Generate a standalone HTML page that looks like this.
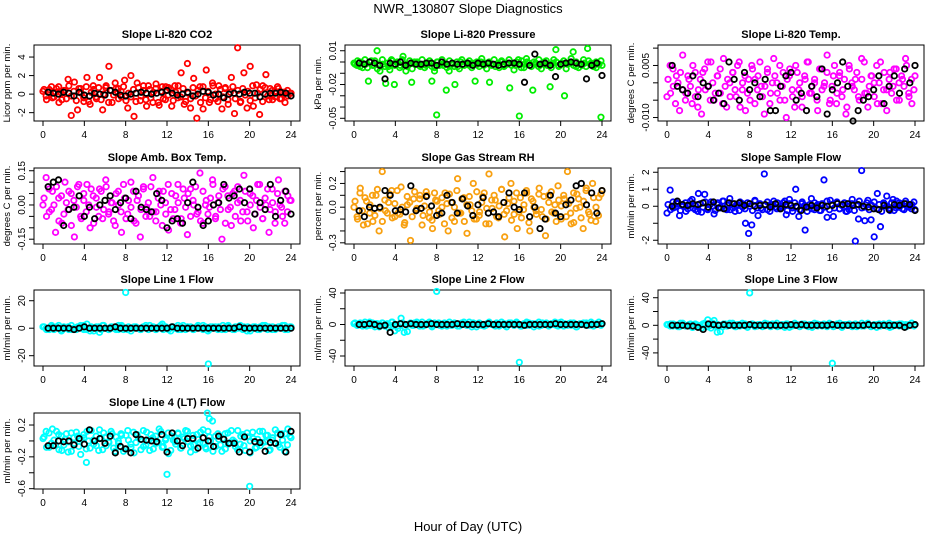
<!DOCTYPE html>
<html><head><meta charset="utf-8">
<style>
html,body{margin:0;padding:0;background:#fff;}
svg{display:block;font-family:"Liberation Sans",Arial,sans-serif;}
</style></head>
<body>
<svg id="chart" width="936" height="540" viewBox="0 0 936 540" xmlns="http://www.w3.org/2000/svg">
<rect width="936" height="540" fill="#fff"/>
<text x="468" y="13" text-anchor="middle" font-size="13">NWR_130807  Slope Diagnostics</text>
<text x="468" y="531" text-anchor="middle" font-size="13">Hour of Day (UTC)</text>
</svg>
<script>
// ---- data (colored = all slopes, black = selected slopes); x evenly spaced over 0-24 h ----
const xTicks = [0,4,8,12,16,20,24];
const co2All = [0.3,-0.2,0.5,-0.4,0.2,0.8,-0.6,0.4,1.6,-2.3,1.3,-1.7,0.6,-0.8,1.8,-1.1,0.9,-0.5,1.8,-1.7,0.7,3.0,-0.9,1.2,0.6,-0.3,1.5,-1.5,2.0,-2.4,1.2,-0.7,0.9,-1.3,0.5,-0.9,1.1,-1.2,0.8,-0.6,0.7,-1.3,0.9,-0.4,2.3,-1.1,3.3,-1.5,1.7,-2.6,0.8,-1.6,2.6,-0.9,1.2,-0.5,0.9,-1.6,0.6,-1.1,1.8,-2.1,5.0,-0.8,2.3,-1.5,3.0,-1.3,1.0,-2.2,0.9,2.1,-0.6,0.4,-0.3,0.6,-0.5,0.2,-0.2,0.1];
const co2Dense = [0.5,-0.6,0.2,0.8,-0.3,0.6,-0.9,0.1,0.4,-0.5,0.9,-0.2,0.3,-0.7,0.6,0.1,-0.4,0.8,-0.8,0.2,0.5,-0.3,0.7,-0.6,0.0,0.9,-0.9,0.4,-0.1,0.6,-0.5,0.3,0.8,-0.7,0.1,-0.3,0.5,-0.8,0.7,-0.2,0.4,-0.6,0.9,-0.4,0.2,0.6,-0.9,0.3,-0.5,0.8,-0.1,0.5,-0.7,0.2,0.9,-0.3,0.6,-0.8,0.1,-0.5,0.7,-0.2,0.4,-0.9,0.8,-0.4,0.3,-0.6,0.9,0.0,-0.8,0.5,-0.3,0.7,-0.6,0.2,0.8,-0.5,0.4,-0.9,0.6,-0.1,0.3,-0.7,0.9,-0.4,0.1,0.5,-0.8,0.7,-0.2,0.6,-0.6,0.3,0.8,-0.5,0.2,-0.9,0.4,0.1];
const co2Sel = [0.2,0.1,0,0.2,0.1,-0.2,0.2,-0.1,-0.2,0.1,0,-0.1,0.4,0.2,-0.1,-0.2,0,0.1,0.2,0.1,0,0.1,0.2,0.4,0.1,-0.1,0,0.2,-0.2,0,0.3,0.2,-0.1,0,-0.4,0,0.1,0,0.2,0.1,0.1,-0.3,0,0.1,0.1,0.2,0.1,-0.2];
const pressAll = [-1,-3,0,-5,-2,-17,1,-3,10,-8,-2,-19,-4,2,-20,-1,-3,5,-8,-2,-18,0,-1,-4,-2,-3,-1,-17,-5,0,-2,-3,-25,-8,-2,-20,-4,0,-2,-1,-3,-1,-17,-2,0,-3,-1,-18,-2,-4,-1,0,-3,-2,-23,-1,-3,2,-5,-2,0,-3,-25,-1,-4,-2,0,-3,-22,-1,11,-3,-1,-30,-2,-1,9,-4,-2,-3,-1,12,-2,-4,-5,-2,-3];
const pressDense = [-2,1,-4,-1,2,-5,0,-3,1,-6,-2,2,-4,-1,-7,1,-3,0,-5,2,-2,-4,1,-6,-1,0,-3,2,-5,-2,1,-4,-8,0,-3,2,-1,-5,1,-2,-4,0,-6,2,-3,-1,1,-5,-2,0,-4,3,-1,-6,0,-3,2,-2,-5,1,-4,-1,2,-3,-7,0,-2,1,-5,3,-1,-4,0,-2,2,-6,-1,1,-3,-5,2,0,-4,-2,1,-6,-1,3,-3,0,-5,-2,2,-4,1,-1,-3,0,-2,1];
const pressOutHours = [8,16,23.9];
const pressOutVals = [-47,-48,-49];
const pressSel = [-1,-2,0,-1,-3,-15,-1,-2,0,-3,-1,-2,-2,-1,-1,-3,0,-2,-1,-2,-2,-1,-3,-1,-2,-1,-2,-3,-2,-1,-1,-2,-18,-3,7,-2,-1,-3,-13,-2,-1,0,-1,-2,-15,-3,-1,-12];
const tempAll = [-4,5,-1,2,-8,8,-3,1,-6,3,-2,-9,4,-1,6,-5,2,-3,7,-7,0,3,-4,6,-2,-8,1,5,-6,2,-1,-9,4,-3,7,0,-5,3,-10,2,-4,5,-2,-7,1,6,-3,0,-8,4,-1,8,-5,2,-6,3,-2,-9,5,-1,1,-4,7,-3,-7,2,0,-6,6,-2,-8,3,-1,4,-5,1,7,-3,-6,2];
const tempDense = [1,-3,4,-6,0,3,-2,-5,2,-1,5,-4,-7,1,3,-2,6,-5,0,-3,2,4,-6,-1,1,-4,3,-2,5,-7,0,2,-3,-5,4,1,-2,6,-4,-1,3,-6,0,2,-3,5,-1,-5,1,4,-2,-7,3,0,-4,2,6,-3,-1,1,-5,4,-2,0,3,-6,-1,5,-3,2,-4,1,-7,4,0,-2,3,-5,1,6,-3,-1,2,-4,5,0,-6,3,-2,1,-3,4,-5,0,2,-1,5,-4,1,-2];
const tempSel = [5,-1,-2,-3,2,-4,0,-1,-5,-3,-6,6,1,-5,3,-2,0,-4,1,-8,-8,-1,2,3,-5,-3,-8,-1,-4,4,-9,-2,0,6,-1,-11,-8,-5,-4,-2,2,-6,-1,2,-3,4,0,5];
const ambAll = [0,12,-3,6,-12,3,-8,10,-2,5,-14,8,-5,2,9,-10,4,-1,7,-6,11,-3,1,-9,6,-12,3,-4,10,-7,2,-14,8,-1,-5,12,-3,6,-9,1,-11,5,-2,9,-6,3,-13,7,0,-4,14,-8,2,-1,11,-5,4,-15,8,-2,-9,6,1,-7,13,-3,5,-10,2,9,-6,0,-12,7,-3,11,-1,-8,4,2];
const ambDense = [3,-5,7,-2,0,8,-7,4,-4,1,6,-9,2,-1,9,-6,5,-3,0,7,-8,3,-5,6,-2,8,-4,1,-7,5,0,-3,9,-6,2,-1,6,-8,4,-2,7,-5,1,8,-3,-7,3,0,6,-4,9,-2,-6,4,1,-8,7,-1,5,-5,2,8,-3,-7,6,0,-4,3,9,-6,1,-2,7,-8,4,-1,5,-5,8,2,-3,6,-7,0,4,-4,9,-1,-6,3,7,-2,1,-8,5,0,-5,6,-3,2];
const ambSel = [8,10,11,-9,-2,-1,4,-5,-1,-6,0,2,4,-2,1,3,-6,6,-1,-2,-3,5,2,-10,-7,-6,-8,1,10,-1,-9,-7,0,1,9,3,4,7,1,7,-4,1,-2,9,-5,2,6,-4];
const rhAll = [0,-8,16,-15,5,-5,-12,10,-20,30,-3,4,14,-8,-5,17,-15,2,-28,7,-1,10,-7,13,-9,-18,6,-3,0,12,-20,4,-12,24,-5,8,-22,2,20,-10,-4,9,-14,28,-1,6,-9,15,-25,3,20,-6,-18,8,-2,12,-20,5,-3,16,-8,-24,10,-4,2,18,-10,7,30,-5,-13,11,0,-18,16,-6,20,-12,8,14];
const rhDense = [5,-10,12,-3,8,-14,2,10,-7,15,-1,-12,6,-5,11,-9,3,14,-6,0,-13,9,4,-8,13,-2,7,-15,1,10,-4,-11,12,5,-6,8,-14,3,11,-9,0,14,-5,7,-12,2,9,-3,-10,13,-7,4,12,-1,-14,6,10,-8,1,15,-6,-3,8,-11,5,12,-4,-9,2,14,-13,7,0,-6,11,-2,9,-10,4,13,-5,-12,6,1,10,-8,3,-14,12,-1,7,-9,5,14,-4,-11,8,0,-7,11];
const rhSel = [-3,-8,0,-1,0,14,10,-3,-2,-4,18,-3,-1,9,1,-7,-5,10,4,-5,7,1,-7,2,8,-5,-4,-8,4,12,0,-2,12,-8,0,-18,-10,10,-5,-8,2,6,18,20,2,12,-5,14];
const flowAll = [-40,95,-10,20,-55,10,-30,5,40,-20,75,-35,70,-15,25,-45,10,-5,30,-20,45,-10,5,-25,15,-100,-160,-110,35,-55,-10,190,-20,10,30,-15,-5,20,-50,40,-30,100,-60,15,-140,-5,45,-20,10,-25,155,-65,35,-60,20,-15,10,-30,-20,40,-205,-75,210,-85,35,-80,-180,75,-120,20,60,-25,40,-10,20,-15,30,-5,10,-20];
const flowDense = [10,-20,25,-5,15,-25,0,20,-15,30,-10,5,-30,15,-5,25,-20,10,0,-25,20,-10,30,-15,5,-20,15,-30,10,25,-5,-15,20,0,-25,30,-10,15,-20,5,25,-30,10,-5,20,-15,0,30,-25,15,-10,20,-5,-20,25,5,-30,10,-15,20,0,-25,15,-5,30,-20,10,-10,25,-15,5,20,-30,0,15,-25,10,30,-10,-5,20,-20,5,25,-15,10,-30,15,0,-10,20,-25,30,-5,10,-20,15,5,-15,25];
const flowSel = [0,30,10,5,15,10,20,-5,25,-10,-15,20,15,20,5,15,0,5,10,-5,15,-15,10,5,0,-25,-5,5,-10,5,0,5,15,10,15,5,10,0,-5,-15,-20,5,-20,10,5,15,10,-25];
const line1All = [1,0,-1,1,0,2,-1,0,1,-1,0,1,2,-1,3,-2,0,1,-3,2,0,-1,1,0,-1,2,0,-1,0,1,0,-1,1,0,2,0,-1,1,3,0,-1,1,0,2,-1,0,1,0,-1,1,0,2,0,-1,1,0,1,-1,0,2,0,-1,1,0,1,-2,0,1,0,-1,2,0,1,-1,0,1,0,2,-1,1];
const line1Dense = [1,-1,0,2,-1,1,0,-2,1,0,-1,2,0,-1,1,0,2,-1,0,1,-2,0,1,-1,2,0,-1,1,0,-1,2,1,-1,0,1,-2,0,1,0,-1,1,2,-1,0,1,-1,0,2,-1,1,0,-2,1,0,-1,1,2,-1,0,1,-1,0,2,0,-1,1,-2,1,0,1,-1,0,2,-1,1,0,-1,1,0,2,-1,0,1,-2,0,1,-1,1,0,2,-1,0,1,-1,0,1,2,-1,0,1];
const line1OutHours = [8,16];
const line1OutVals = [26,-26];
const line1Sel = [0,0,0,0,0,-1,0,1,0,0,0,0,0,1,0,0,0,0,0,0,0,0,0,0,1,0,0,0,0,0,0,0,0,0,0,0,0,1,0,0,0,0,0,0,0,0,0,0];
const line2All = [1,-1,2,0,-2,3,-1,1,-3,2,0,-4,3,-8,-5,8,-10,-9,2,-1,3,0,-2,1,3,-1,0,2,-2,1,0,-1,2,-2,1,3,-1,0,2,-3,1,0,-1,2,0,-2,1,3,-1,0,2,-1,1,-2,0,3,-1,1,0,-2,2,0,-1,1,3,-2,0,1,-1,2,0,-3,1,0,2,-1,1,0,3,1];
const line2Dense = [2,-1,1,-2,3,0,-1,2,-3,1,0,2,-2,1,-1,3,0,-2,1,2,-3,0,1,-1,2,0,-2,3,-1,1,0,-3,2,1,-1,0,2,-2,3,-1,0,1,-2,2,0,-1,3,-3,1,0,2,-1,-2,1,3,0,-1,2,-2,0,1,-3,2,1,-1,3,0,-2,1,-1,2,0,-3,1,3,-1,0,2,-2,1,0,-1,2,3,-2,0,1,-1,2,-3,0,1,2,-1,0,3,-2,1,0,-1];
const line2OutHours = [8,16];
const line2OutVals = [42,-48];
const line2Sel = [0,0,1,0,-2,-1,-10,0,1,0,1,0,0,0,1,0,0,0,0,1,0,0,0,0,0,1,0,0,0,0,0,0,-1,0,0,0,0,0,1,0,0,0,0,0,-1,0,0,1];
const line3All = [1,-1,2,0,-2,3,-1,1,-3,2,0,-4,3,8,-4,7,-10,-9,2,-1,3,0,-2,1,3,-1,0,2,-2,1,0,-1,2,-2,1,3,-1,0,2,-3,1,0,-1,2,0,-2,1,3,-1,0,2,-1,1,-2,0,3,-1,1,0,-2,2,0,-1,1,3,-2,0,1,-1,2,0,-3,1,0,2,-1,1,0,3,1];
const line3Dense = [1,2,-1,0,-2,3,1,-1,0,2,-3,1,0,-1,2,1,-2,0,3,-1,1,0,-2,2,-1,0,3,-2,1,-1,0,2,-3,1,2,0,-1,1,-2,3,0,-1,2,1,-2,0,1,-3,2,0,-1,3,1,-2,0,2,-1,1,-3,0,2,1,-1,0,-2,3,1,-1,2,0,-3,1,0,2,-1,1,-2,0,3,-1,2,0,-1,1,-3,2,0,1,-1,3,-2,0,1,-1,2,0,-2,1,3,-1];
const line3OutHours = [8,16];
const line3OutVals = [47,-55];
const line3Sel = [0,0,0,-1,-1,-3,-6,2,1,0,1,0,0,0,0,1,0,0,0,0,0,0,0,1,0,1,0,0,0,0,0,1,0,0,0,0,0,0,1,0,0,0,0,0,0,-3,0,1];
const line4All = [3,12,-8,15,-5,8,-12,2,-14,10,-3,6,-17,4,12,-9,1,-6,14,-11,5,-2,9,-13,0,7,-10,13,-4,-15,8,2,-7,11,-12,4,-3,15,-8,1,-16,6,-1,10,-9,3,12,-14,-5,8,-2,14,-10,5,25,-7,2,-13,9,-4,13,-1,-11,6,-6,10,-15,3,-8,12,-2,7,-12,1,14,-5,9,-13,15,4];
const line4Dense = [5,-8,10,-3,1,12,-11,6,-5,9,-1,-13,4,11,-7,2,8,-10,0,13,-4,6,-12,3,10,-6,-1,12,-9,5,-3,9,-13,7,1,-8,11,-2,4,-11,13,-5,0,8,-10,6,-2,12,-7,3,10,-12,1,-4,9,-9,5,13,-1,-6,7,-11,2,11,-3,-8,12,0,-13,6,9,-5,3,-10,10,-2,1,-7,13,-4,8,-12,5,0,11,-9,2,-6,12,-1,7,-11,4,-3,10,-8,1,9,-5,6];
const line4OutHours = [4.2,12,15.9,16.1,20];
const line4OutVals = [-27,-42,35,28,-57];
const line4Sel = [-6,-6,0,-1,0,-5,3,-4,14,0,3,-3,6,-15,-7,-10,-15,8,2,1,0,-1,8,-14,10,0,-6,3,3,-9,4,0,-7,6,2,-3,-3,-14,5,-14,-1,-2,-13,-2,-3,8,-14,12];

// ---- layout ----
const colL = [34,345,658], rowT = [45,168,290,413], PW = 266, PH = 76;
const panels = [
 {name:'co2',title:'Slope Li-820 CO2',ylab:'Licor ppm per min.',c:0,r:0,top:5.3,bot:-2.9,ticks:[-2,0,2,4],labs:['-2','0','2','4'],color:'#ff0000',all:co2All,dense:co2Dense,sel:co2Sel},
 {name:'pressure',title:'Slope Li-820 Pressure',ylab:'kPa per min.',c:1,r:0,top:15.1,bot:-52.4,ticks:[10,0,-10,-20,-30,-40,-50],labs:['0.01','','','-0.02','','','-0.05'],color:'#00ee00',all:pressAll,dense:pressDense,sel:pressSel,oh:pressOutHours,ov:pressOutVals},
 {name:'temp',title:'Slope Li-820 Temp.',ylab:'degrees C per min.',c:2,r:0,top:10.9,bot:-11,ticks:[10,5,0,-5,-10],labs:['','0.005','','','-0.010'],color:'#ff00ff',all:tempAll,dense:tempDense,sel:tempSel},
 {name:'amb-box-temp',title:'Slope Amb. Box Temp.',ylab:'degrees C per min.',c:0,r:1,top:16.2,bot:-17.1,ticks:[15,10,5,0,-5,-10,-15],labs:['0.15','','','0.00','','','-0.15'],color:'#ff00ff',all:ambAll,dense:ambDense,sel:ambSel},
 {name:'gas-rh',title:'Slope Gas Stream RH',ylab:'percent per min.',c:1,r:1,top:33,bot:-31,ticks:[30,20,10,0,-10,-20,-30],labs:['','0.2','','0.0','','','-0.3'],color:'#f8a010',all:rhAll,dense:rhDense,sel:rhSel},
 {name:'sample-flow',title:'Slope Sample Flow',ylab:'ml/min per min.',c:2,r:1,top:225,bot:-222,ticks:[200,100,0,-100,-200],labs:['2','1','0','','-2'],color:'#0000ff',all:flowAll,dense:flowDense,sel:flowSel},
 {name:'line1-flow',title:'Slope Line 1 Flow',ylab:'ml/min per min.',c:0,r:2,top:27.8,bot:-27.5,ticks:[20,0,-20],labs:['20','0','-20'],color:'#00ffff',all:line1All,dense:line1Dense,sel:line1Sel,oh:line1OutHours,ov:line1OutVals},
 {name:'line2-flow',title:'Slope Line 2 Flow',ylab:'ml/min per min.',c:1,r:2,top:43.8,bot:-52.7,ticks:[40,20,0,-20,-40],labs:['40','','0','','-40'],color:'#00ffff',all:line2All,dense:line2Dense,sel:line2Sel,oh:line2OutHours,ov:line2OutVals},
 {name:'line3-flow',title:'Slope Line 3 Flow',ylab:'ml/min per min.',c:2,r:2,top:51.2,bot:-59,ticks:[40,20,0,-20,-40],labs:['40','','0','','-40'],color:'#00ffff',all:line3All,dense:line3Dense,sel:line3Sel,oh:line3OutHours,ov:line3OutVals},
 {name:'line4-flow',title:'Slope Line 4 (LT) Flow',ylab:'ml/min per min.',c:0,r:3,top:35.1,bot:-60.4,ticks:[20,0,-20,-40,-60],labs:['0.2','','-0.2','','-0.6'],color:'#00ffff',all:line4All,dense:line4Dense,sel:line4Sel,oh:line4OutHours,ov:line4OutVals}
];
const svg = document.getElementById('chart');
const NS = 'http://www.w3.org/2000/svg';
function mk(tag, attrs, parent){
  const e = document.createElementNS(NS, tag);
  for (const k in attrs) e.setAttribute(k, attrs[k]);
  parent.appendChild(e);
  return e;
}
panels.forEach(p => {
  const L = colL[p.c], T = rowT[p.r];
  const xs = h => L + 9 + h/24*248;
  const ys = v => T + (p.top - v)/(p.top - p.bot)*PH;
  const g = mk('g', {}, svg);
  
  
  const t = mk('text', {x:L+PW/2, y:T-7, 'text-anchor':'middle', 'font-size':11, 'font-weight':'bold'}, g);
  t.textContent = p.title;
  
  
  const box = mk('rect', {x:L, y:T, width:PW, height:PH, fill:'none', stroke:'#000', 'stroke-width':1}, g);
  
  
  const xa = mk('g', {}, g);
  
  
  mk('line', {x1:xs(0), x2:xs(24), y1:T+PH, y2:T+PH, stroke:'#000'}, xa);
  xTicks.forEach(h => {
    mk('line', {x1:xs(h), x2:xs(h), y1:T+PH, y2:T+PH+5, stroke:'#000'}, xa);
    const lt = mk('text', {x:xs(h), y:T+PH+17, 'text-anchor':'middle', 'font-size':10}, xa);
    lt.textContent = h;
    
    
  });
  const ya = mk('g', {}, g);
  
  
  p.ticks.forEach((v, i) => {
    const y = ys(v);
    mk('line', {x1:L-5, x2:L, y1:y, y2:y, stroke:'#000'}, ya);
    if (p.labs[i]) {
      const lt = mk('text', {x:L-9, y:y, 'text-anchor':'middle', 'font-size':10, transform:'rotate(-90 '+(L-9)+' '+y+')'}, ya);
      lt.textContent = p.labs[i];
      
      
    }
  });
  const yl = mk('text', {x:L-24, y:T+PH/2, 'text-anchor':'middle', 'font-size':9.5, transform:'rotate(-90 '+(L-24)+' '+(T+PH/2)+')'}, g);
  yl.textContent = p.ylab;
  
  
  const sa = mk('g', {fill:'none', stroke:p.color, 'stroke-width':1.8}, g);
  
  
  p.dense.forEach((v, i) => {
    const c = mk('circle', {cx:xs(0.1 + i*23.8/(p.dense.length-1)), cy:ys(v), r:2.7}, sa);
    
    
  });
  p.all.forEach((v, i) => {
    const c = mk('circle', {cx:xs(i*24/(p.all.length-1)), cy:ys(v), r:2.7}, sa);
    
    
  });
  if (p.oh) p.oh.forEach((h, i) => {
    const c = mk('circle', {cx:xs(h), cy:ys(p.ov[i]), r:2.7}, sa);
    
    
  });
  const sb = mk('g', {fill:'none', stroke:'#000', 'stroke-width':1.8}, g);
  
  
  p.sel.forEach((v, i) => {
    const c = mk('circle', {cx:xs(0.5 + i*23.5/(p.sel.length-1)), cy:ys(v), r:2.7}, sb);
    
    
  });
});
</script>
</body></html>
